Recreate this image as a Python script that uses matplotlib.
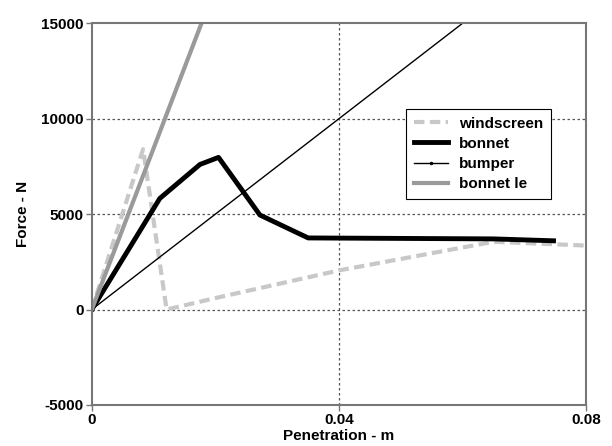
import matplotlib
matplotlib.use("Agg")
import matplotlib.pyplot as plt

# penetration (m) / force (N)
windscreen_x = [0, 0.0083, 0.0121, 0.02, 0.04, 0.065, 0.08]
windscreen_y = [0, 8400, 0, 600, 2050, 3550, 3350]

bonnet_x = [0, 0.011, 0.0175, 0.0205, 0.0272, 0.035, 0.065, 0.0747]
bonnet_y = [0, 5820, 7600, 7970, 4950, 3750, 3700, 3600]

bumper_x = [0, 0.08]
bumper_y = [0, 20000]

bonnet_le_x = [0, 0.02]
bonnet_le_y = [0, 16900]

plt.rcParams['font.family'] = ['Liberation Sans', 'DejaVu Sans']
plt.rcParams['font.weight'] = 'bold'
plt.rcParams['axes.labelweight'] = 'bold'
plt.rcParams['axes.unicode_minus'] = False
plt.rcParams['font.size'] = 11

fig = plt.figure(figsize=(6.12, 4.46), dpi=100)
ax = fig.add_axes([0.150, 0.092, 0.808, 0.856])

ax.plot(windscreen_x, windscreen_y, color='#c8c8c8', lw=3, ls=(0, (2.5, 1.3)), label='windscreen')
ax.plot(bonnet_x, bonnet_y, color='black', lw=3.5, label='bonnet')
ax.plot(bumper_x, bumper_y, color='black', lw=1, marker='.', markersize=3, label='bumper')
ax.plot(bonnet_le_x, bonnet_le_y, color='#9a9a9a', lw=3, label='bonnet le')

ax.set_xlim(0, 0.08)
ax.set_ylim(-5000, 15000)
ax.set_xticks([0, 0.04, 0.08])
ax.set_xticklabels(['0', '0.04', '0.08'])
ax.set_yticks([-5000, 0, 5000, 10000, 15000])

# dotted grid on the inner lines only
for gx in [0.04]:
    ax.axvline(gx, color='#555555', lw=0.9, ls=(0, (2, 2)), zorder=0)
for gy in [0, 5000, 10000]:
    ax.axhline(gy, color='#555555', lw=0.9, ls=(0, (2, 2)), zorder=0)

for s in ax.spines.values():
    s.set_color('#777777')
    s.set_linewidth(1.5)
ax.tick_params(direction='out', length=4, width=1, color='#777777', pad=2)

ax.set_xlabel('Penetration - m', labelpad=1)
ax.set_ylabel('Force - N', labelpad=8)

leg = ax.legend(loc='upper left', bbox_to_anchor=(0.636, 0.775), borderaxespad=0,
                fancybox=False, edgecolor='black', framealpha=1,
                handlelength=2.2, labelspacing=0.4, borderpad=0.5, handletextpad=0.75)
leg.get_frame().set_linewidth(0.8)

fig.savefig('out.png', dpi=100)
